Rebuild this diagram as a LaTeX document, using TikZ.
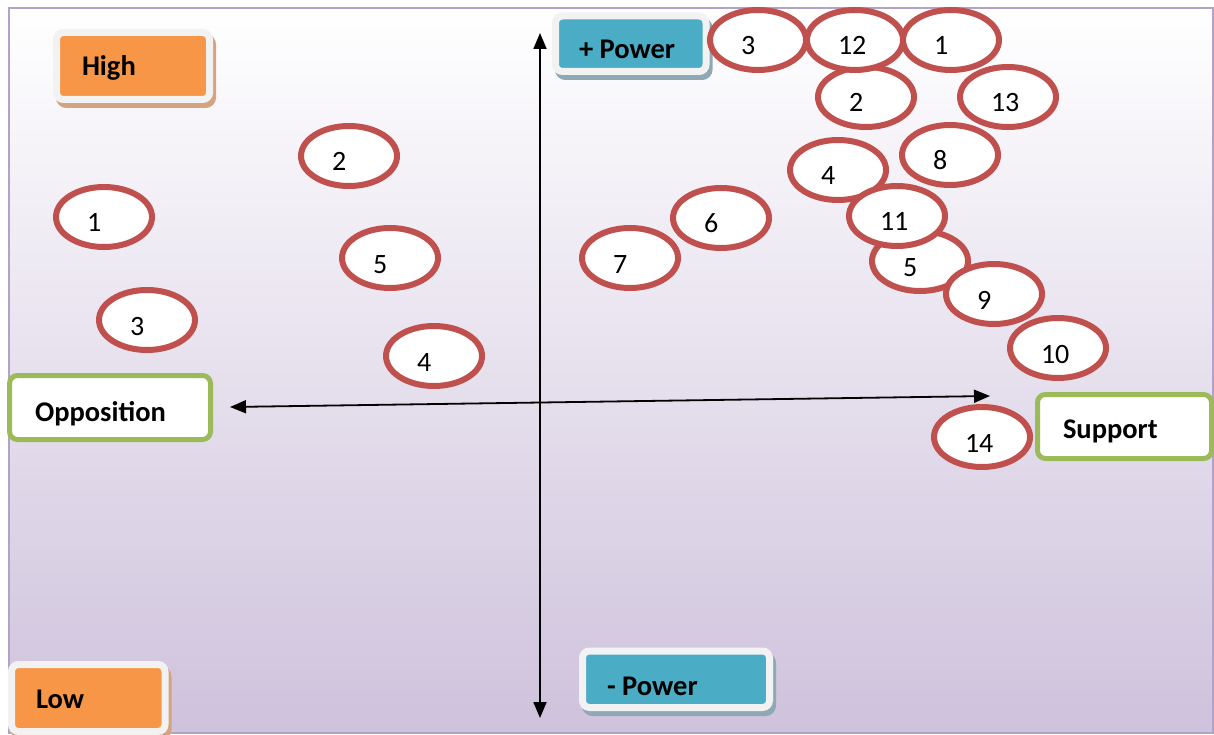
\documentclass[tikz,border=0pt]{standalone}
\usepackage{fontspec}
\setmainfont{Carlito}
\usetikzlibrary{arrows.meta,shapes.geometric,shadows}
\definecolor{bgbot}{HTML}{CEC2DC}
\definecolor{bgline}{HTML}{B3A2C7}
\definecolor{oranfill}{HTML}{F79646}
\definecolor{bluefill}{HTML}{4BACC6}
\definecolor{framegray}{HTML}{F2F2F2}
\definecolor{orshadow}{HTML}{D4A482}
\definecolor{blshadow}{HTML}{8FA8B6}
\definecolor{greenline}{HTML}{9BBB59}
\definecolor{redline}{HTML}{C0504D}
\newcommand\lblfont{\fontsize{28.5}{34}\selectfont\bfseries}
\newcommand\numfont{\fontsize{28}{33}\selectfont}
\newcommand\stk[1]{\makebox[34pt][l]{#1}}
\begin{document}
\begin{tikzpicture}[x=1pt,y=-1pt,
  tagorange/.style={rectangle, rounded corners=7pt, draw=framegray, line width=7pt, fill=oranfill, font=\lblfont, inner ysep=0pt, text depth=0pt,
    drop shadow={shadow xshift=3pt, shadow yshift=-5pt, fill=orshadow, draw=orshadow, opacity=1}},
  tagblue/.style={rectangle, rounded corners=7pt, draw=framegray, line width=7pt, fill=bluefill, font=\lblfont, inner ysep=0pt, text depth=0pt,
    drop shadow={shadow xshift=3pt, shadow yshift=-5pt, fill=blshadow, draw=blshadow, opacity=1}},
  sidebox/.style={rectangle, rounded corners=8pt, draw=greenline, line width=5pt, fill=white, font=\lblfont, inner ysep=0pt, text depth=0pt},
  stake/.style={ellipse, draw=redline, line width=6pt, fill=white, minimum width=96pt, minimum height=60pt, inner sep=0pt, font=\numfont, text height=30pt, text depth=0pt},
  axisline/.style={line width=1.8pt, {Triangle[length=16pt,width=13pt]}-{Triangle[length=16pt,width=13pt]}}
]
\useasboundingbox (0,0) rectangle (1214,735);
\shade[top color=white, bottom color=bgbot] (9,8) rectangle (1213,733);
\draw[bgline, line width=2pt] (9,8) rectangle (1213,733);

% corner labels
\node[tagorange, minimum width=153pt, minimum height=67pt, inner xsep=25.5pt, text height=20pt] (high) at (133,66) {\makebox[102pt][l]{High}};
\node[tagorange, minimum width=153.5pt, minimum height=67pt, inner xsep=24.5pt, text height=20pt] (low) at (88.25,698) {\makebox[104.5pt][l]{Low}};
\node[tagblue, minimum width=150.5pt, minimum height=55.5pt, inner xsep=23.5pt, text height=29.3pt] (pluspower) at (630.75,43.75) {\makebox[103.5pt][l]{+ Power}};
\node[tagblue, minimum width=187pt, minimum height=56.5pt, inner xsep=24.5pt, text height=31.5pt] (minuspower) at (676,679.25) {\makebox[138pt][l]{- Power}};
\node[sidebox, minimum width=201pt, minimum height=64pt, inner xsep=25.5pt, text height=28.4pt] (opposition) at (110,407.5) {\makebox[150pt][l]{Opposition}};
\node[sidebox, minimum width=174pt, minimum height=64pt, inner xsep=25.5pt, text height=24pt] (support) at (1124.5,426.5) {\makebox[123pt][l]{Support}};

% axes
\coordinate (vtop) at (540,33);
\coordinate (vbot) at (540,718);
\coordinate (hleft) at (230,407);
\coordinate (hright) at (990,396);
\draw[axisline] (vtop) -- (vbot);
\draw[axisline] (hleft) -- (hright);

% opposition side
\node[stake] (l1) at (104,217) {\stk{1}};
\node[stake] (l2) at (349,156) {\stk{2}};
\node[stake] (l5) at (390,258) {\stk{5}};
\node[stake] (l3) at (147,320) {\stk{3}};
\node[stake] (l4) at (434,356) {\stk{4}};
% middle
\node[stake] (m7) at (630,258) {\stk{7}};
\node[stake] (m6) at (721,218) {\stk{6}};
% support side
\node[stake] (r3) at (758,40) {\stk{3}};
\node[stake] (r1) at (951,40) {\stk{1}};
\node[stake] (r2) at (866,97) {\stk{2}};
\node[stake] (r12) at (855,40) {\stk{12}};
\node[stake] (r13) at (1008,97) {\stk{13}};
\node[stake] (r8) at (950,155) {\stk{8}};
\node[stake] (r4) at (838,170) {\stk{4}};
\node[stake] (r5) at (920,261) {\stk{5}};
\node[stake] (r11) at (897,216) {\stk{11}};
\node[stake] (r9) at (994,294) {\stk{9}};
\node[stake] (r10) at (1058,348) {\stk{10}};
\node[stake] (r14) at (982,437) {\stk{14}};
\end{tikzpicture}
\end{document}
